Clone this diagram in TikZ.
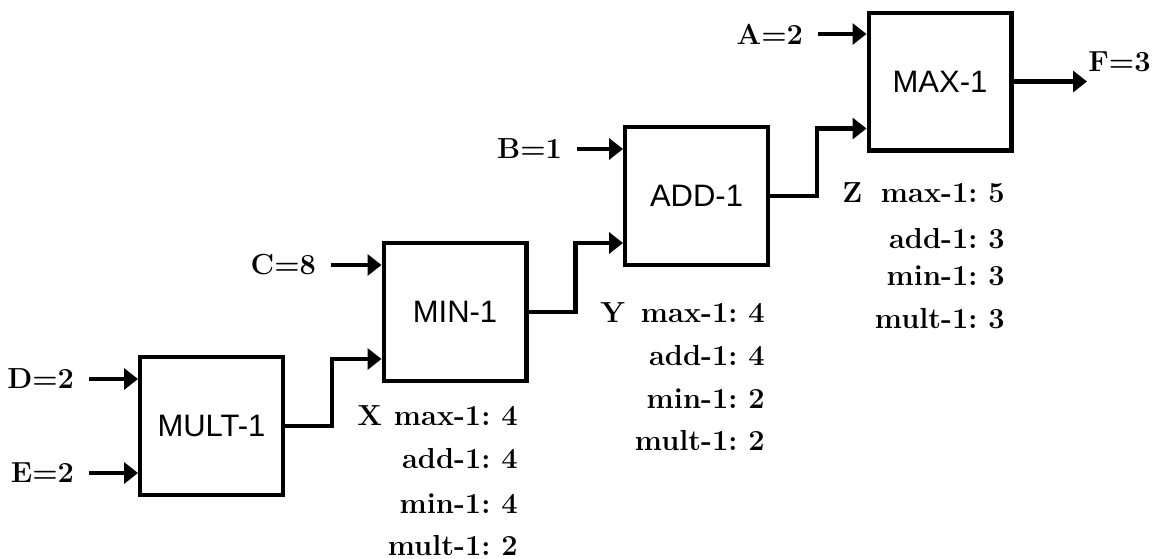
\documentclass[tikz,border=0pt]{standalone}
\usepackage{fontspec}
\newfontfamily\boxfont{Liberation Sans}
\usetikzlibrary{arrows.meta}
\frenchspacing

\begin{document}
\begin{tikzpicture}[x=0.5pt,y=-0.5pt,
  op/.style={draw,line width=2.2pt,minimum width=71.3pt,minimum height=68.8pt,inner sep=0pt,font=\boxfont\fontsize{15.5}{18}\selectfont},
  sig/.style={line width=2.2pt,-{Triangle[length=7pt,width=10.5pt]}},
  inlab/.style={anchor=east,inner sep=0pt,outer xsep=7.5pt,font=\fontsize{14.5}{17}\selectfont\bfseries},
  tally/.style={anchor=base east,inner sep=0pt,font=\fontsize{14.5}{17}\selectfont\bfseries}]
  \useasboundingbox (0,0) rectangle (1156,558);
  % operator boxes
  \node[op] (mult) at (211.5,426) {MULT-1};
  \node[op] (min) at (455,312) {MIN-1};
  \node[op] (add) at (696.5,196) {ADD-1};
  \node[op] (max) at (940,81.5) {MAX-1};
  % inputs
  \node[inlab] (d) at (89,379) {D=2};
  \node[inlab] (e) at (89,473) {E=2};
  \node[inlab] (c) at (331,265) {C=8};
  \node[inlab] (b) at (577,149) {B=1};
  \node[inlab] (a) at (818,34) {A=2};
  \foreach \s/\t in {d/mult,e/mult,c/min,b/add,a/max} \draw[sig] (\s.east) -- (\s.east -| \t.west);
  % chain
  \draw[sig] (mult.east) -- ++(47,0) |- ([yshift=-23.5pt]min.west);
  \draw[sig] (min.east) -- ++(47,0) |- ([yshift=-23.5pt]add.west);
  \draw[sig] (add.east) -- ++(47,0) |- ([yshift=-23.5pt]max.west);
  \coordinate (fend) at (1087,82);
  \draw[sig] (max.east) -- (max.east -| fend);
  \node[tally,anchor=base west] (f) at (1088,71) {F=3};
  % tallies
  \node[tally,anchor=base west] (xl) at (357,425) {X};
  \foreach \i/\txt/\y in {1/max-1: 4/425,2/add-1: 4/468,3/min-1: 4/513,4/mult-1: 2/555}
    \node[tally] (x\i) at (518,\y) {\txt};
  \node[tally,anchor=base west] (yl) at (600,322) {Y};
  \foreach \i/\txt/\y in {1/max-1: 4/322,2/add-1: 4/365,3/min-1: 2/408,4/mult-1: 2/450}
    \node[tally] (y\i) at (765,\y) {\txt};
  \node[tally,anchor=base west] (zl) at (842,202) {Z};
  \foreach \i/\txt/\y in {1/max-1: 5/202,2/add-1: 3/248,3/min-1: 3/285,4/mult-1: 3/328}
    \node[tally] (z\i) at (1005,\y) {\txt};
\end{tikzpicture}
\end{document}
